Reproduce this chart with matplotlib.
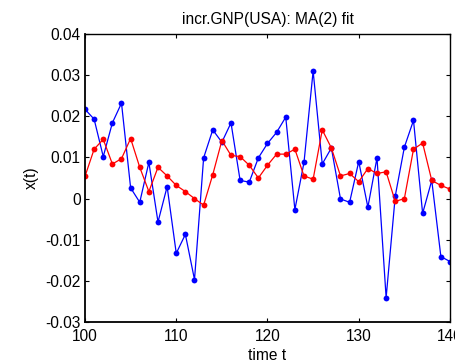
import matplotlib
matplotlib.use("Agg")
import matplotlib.pyplot as plt
import numpy as np

plt.rcParams['font.family'] = ['Liberation Sans', 'DejaVu Sans']

# time index
t = np.arange(100, 141)

# observed growth of GNP (increments)
observed = [0.0217, 0.0193, 0.0102, 0.0184, 0.0232, 0.0026, -0.0009, 0.0088, -0.0057, 0.0029,
            -0.0133, -0.0087, -0.0197, 0.0099, 0.0167, 0.0137, 0.0184, 0.0044, 0.0040, 0.0099,
            0.0134, 0.0161, 0.0198, -0.0027, 0.0088, 0.0310, 0.0084, 0.0123, -0.0001, -0.0009,
            0.0090, -0.0021, 0.0099, -0.0241, 0.0006, 0.0125, 0.0190, -0.0036, 0.0044, -0.0141,
            -0.0153]

# MA(2) fitted values
fitted = [0.0054, 0.0120, 0.0144, 0.0084, 0.0097, 0.0146, 0.0076, 0.0017, 0.0076, 0.0055,
          0.0032, 0.0017, 0.0000, -0.0016, 0.0058, 0.0141, 0.0105, 0.0102, 0.0081, 0.0050,
          0.0081, 0.0108, 0.0108, 0.0120, 0.0055, 0.0047, 0.0167, 0.0123, 0.0055, 0.0061,
          0.0041, 0.0073, 0.0061, 0.0065, -0.0007, 0.0000, 0.0120, 0.0135, 0.0044, 0.0032,
          0.0023]

xticks = [100, 110, 120, 130, 140]
yticks = [-0.03, -0.02, -0.01, 0, 0.01, 0.02, 0.03, 0.04]
yticklabels = ['-0.03', '-0.02', '-0.01', '0', '0.01', '0.02', '0.03', '0.04']

fs = 11.2

fig = plt.figure(figsize=(4.56, 3.64), dpi=100)
ax = fig.add_axes([85 / 456, 1 - 322 / 364, 365 / 456, 288 / 364])

ax.plot(t, observed, '-o', color='#0000ff', lw=0.9, ms=4.2, markeredgewidth=0)
ax.plot(t, fitted, '-o', color='#ff0000', lw=0.9, ms=4.2, markeredgewidth=0)

ax.set_xlim(100, 140)
ax.set_ylim(-0.03, 0.04)
ax.set_xticks(xticks)
ax.set_xticklabels([str(v) for v in xticks])
ax.set_yticks(yticks)
ax.set_yticklabels(yticklabels)

ax.tick_params(direction='in', length=3, width=0.8, top=True, right=True,
               labelsize=fs)
ax.tick_params(axis='x', pad=5)
ax.tick_params(axis='y', pad=3)
for s in ax.spines.values():
    s.set_linewidth(1.0)
ax.spines['left'].set_linewidth(1.3)
ax.spines['bottom'].set_linewidth(1.3)

ax.set_title('incr.GNP(USA): MA(2) fit', fontsize=fs, pad=7)
ax.set_xlabel('time t', fontsize=fs, labelpad=3)
ax.set_ylabel('x(t)', fontsize=fs, labelpad=5)

fig.savefig('out.png', dpi=100)
